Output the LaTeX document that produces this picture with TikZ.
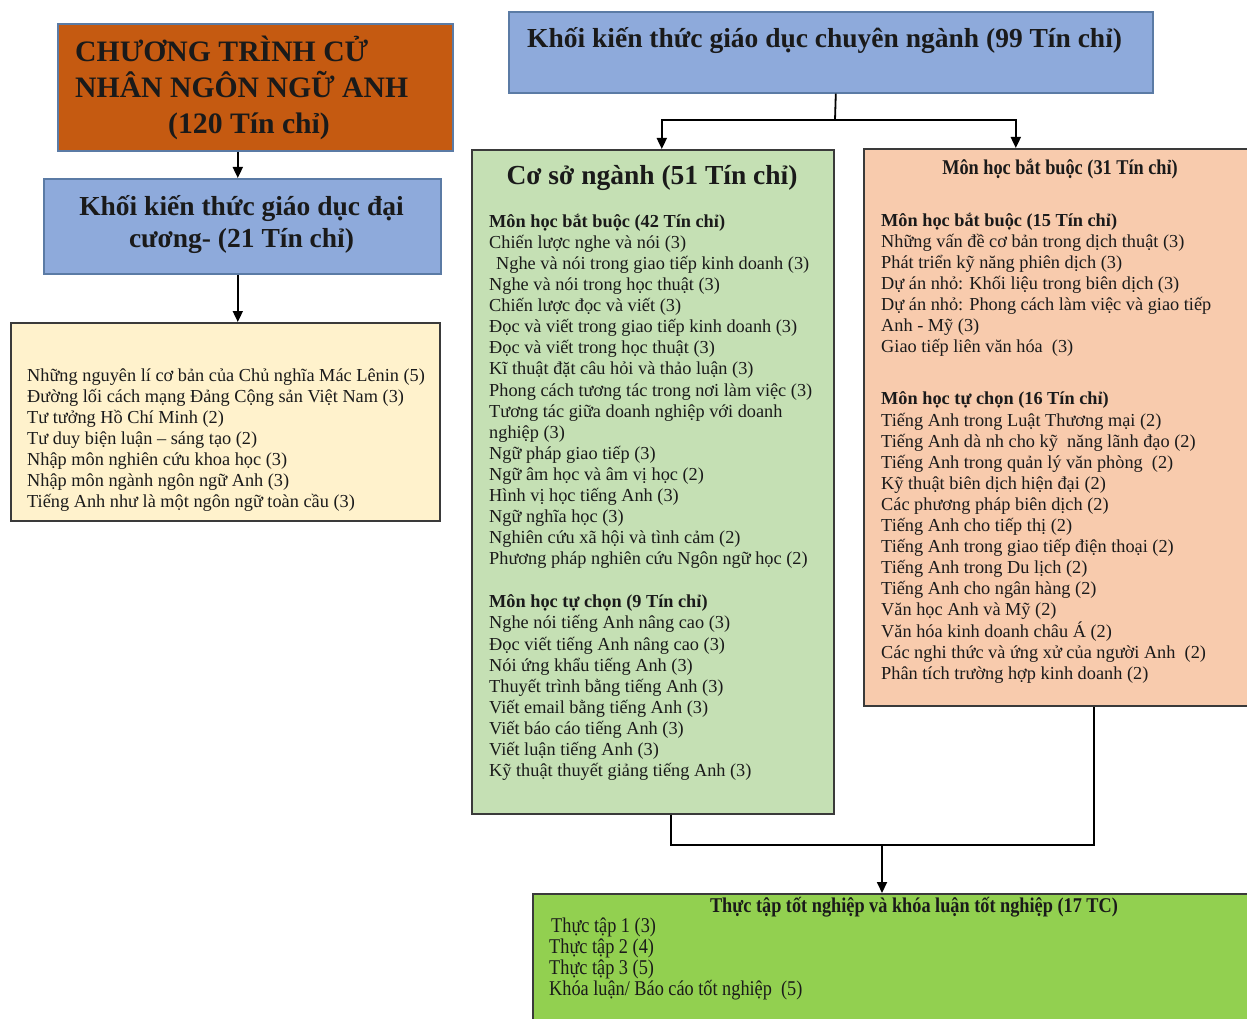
\documentclass[tikz,border=0pt]{standalone}
\usepackage{fontspec}
\setmainfont{Liberation Serif}
\newfontfamily\narrowfont[FakeStretch=0.87]{Liberation Serif}
\usepackage{xcolor}
\usetikzlibrary{positioning, arrows.meta, calc}

\definecolor{progorange}{HTML}{C55A11}
\definecolor{blockblue}{HTML}{8EAADB}
\definecolor{blueedge}{HTML}{5B7BA5}
\definecolor{genyellow}{HTML}{FFF2CC}
\definecolor{coregreen}{HTML}{C5E0B4}
\definecolor{specpink}{HTML}{F8CBAD}
\definecolor{thesisgreen}{HTML}{92D050}
\definecolor{boxedge}{HTML}{3A3A3A}
\definecolor{inktext}{HTML}{1A1A1A}

% first-line strut, so that the north of a text block is a fixed distance above its first baseline
\newcommand{\topline}[1]{\rule{0pt}{#1}}

\begin{document}
\begin{tikzpicture}[x=1pt, y=-1pt,
        block/.style={draw=boxedge, line width=1.6pt, rectangle, inner sep=0pt, anchor=north west},
        headblock/.style={block, draw=blueedge},
        title/.style={inner sep=0pt, align=center, text=inktext, font=\bfseries\fontsize{27.5}{32}\selectfont},
        listtext/.style={inner sep=0pt, anchor=north west, align=left, text=inktext, font=\fontsize{18.3}{21.1}\selectfont},
        arrow/.style={-{Triangle[width=10pt, length=11pt]}, line width=1.8pt},
        link/.style={line width=1.8pt}
    ]
    \useasboundingbox (0,0) rectangle (1247,1019);

    % --- Left column ---
    \node[headblock, fill=progorange, minimum width=395pt, minimum height=127pt] (program) at (57,23) {};
    \node[title, anchor=north west, align=left, font=\bfseries\fontsize{29.7}{36}\selectfont] (program-text) at (75,31)
        {\topline{30pt}CHƯƠNG TRÌNH CỬ\\NHÂN NGÔN NGỮ ANH\\\hspace*{93pt}(120 Tín chỉ)};

    \node[headblock, fill=blockblue, minimum width=397pt, minimum height=95pt] (general) at (43,178) {};
    \node[title, anchor=north] (general-text) at (241.5,188) {\topline{27pt}Khối kiến thức giáo dục đại\\cương- (21 Tín chỉ)};

    \node[block, fill=genyellow, minimum width=429pt, minimum height=198pt] (gen-list) at (10,322) {};
    \node[listtext] (gen-items) at (27,361) {\topline{20pt}Những nguyên lí cơ bản của Chủ nghĩa Mác Lênin (5)\\
        Đường lối cách mạng Đảng Cộng sản Việt Nam (3)\\
        Tư tưởng Hồ Chí Minh (2)\\
        Tư duy biện luận – sáng tạo (2)\\
        Nhập môn nghiên cứu khoa học (3)\\
        Nhập môn ngành ngôn ngữ Anh (3)\\
        Tiếng Anh như là một ngôn ngữ toàn cầu (3)};

    % --- Major block ---
    \node[headblock, fill=blockblue, minimum width=644pt, minimum height=81pt] (major) at (508,11) {};
    \node[title, anchor=base west] (major-text) at (527,48) {Khối kiến thức giáo dục chuyên ngành (99 Tín chỉ)};

    \node[block, fill=coregreen, minimum width=362pt, minimum height=664pt] (core) at (471,149) {};
    \node[title, anchor=base] (core-text) at (652,185) {Cơ sở ngành (51 Tín chỉ)};
    \node[listtext] (core-items) at (489,207) {\topline{20pt}\textbf{Môn học bắt buộc (42 Tín chỉ)}\\
        Chiến lược nghe và nói (3)\\
        \hspace*{7pt}Nghe và nói trong giao tiếp kinh doanh (3)\\
        Nghe và nói trong học thuật (3)\\
        Chiến lược đọc và viết (3)\\
        Đọc và viết trong giao tiếp kinh doanh (3)\\
        Đọc và viết trong học thuật (3)\\
        Kĩ thuật đặt câu hỏi và thảo luận (3)\\
        Phong cách tương tác trong nơi làm việc (3)\\
        Tương tác giữa doanh nghiệp với doanh\\
        nghiệp (3)\\
        Ngữ pháp giao tiếp (3)\\
        Ngữ âm học và âm vị học (2)\\
        Hình vị học tiếng Anh (3)\\
        Ngữ nghĩa học (3)\\
        Nghiên cứu xã hội và tình cảm (2)\\
        Phương pháp nghiên cứu Ngôn ngữ học (2)\\[21.9pt]
        \textbf{Môn học tự chọn (9 Tín chỉ)}\\
        Nghe nói tiếng Anh nâng cao (3)\\
        Đọc viết tiếng Anh nâng cao (3)\\
        Nói ứng khẩu tiếng Anh (3)\\
        Thuyết trình bằng tiếng Anh (3)\\
        Viết email bằng tiếng Anh (3)\\
        Viết báo cáo tiếng Anh (3)\\
        Viết luận tiếng Anh (3)\\
        Kỹ thuật thuyết giảng tiếng Anh (3)};

    \node[block, fill=specpink, minimum width=389pt, minimum height=557pt] (spec) at (863,148) {};
    \node[title, anchor=base, font=\narrowfont\bfseries\fontsize{21}{24}\selectfont] (spec-text) at (1060,175) {Môn học bắt buộc (31 Tín chỉ)};
    \node[listtext] (spec-items) at (881,206) {\topline{20pt}\textbf{Môn học bắt buộc (15 Tín chỉ)}\\
        Những vấn đề cơ bản trong dịch thuật (3)\\
        Phát triển kỹ năng phiên dịch (3)\\
        Dự án nhỏ: Khối liệu trong biên dịch (3)\\
        Dự án nhỏ: Phong cách làm việc và giao tiếp\\
        Anh - Mỹ (3)\\
        Giao tiếp liên văn hóa~~(3)\\[31pt]
        \textbf{Môn học tự chọn (16 Tín chỉ)}\\
        Tiếng Anh trong Luật Thương mại (2)\\
        Tiếng Anh dà nh cho kỹ~~năng lãnh đạo (2)\\
        Tiếng Anh trong quản lý văn phòng~~(2)\\
        Kỹ thuật biên dịch hiện đại (2)\\
        Các phương pháp biên dịch (2)\\
        Tiếng Anh cho tiếp thị (2)\\
        Tiếng Anh trong giao tiếp điện thoại (2)\\
        Tiếng Anh trong Du lịch (2)\\
        Tiếng Anh cho ngân hàng (2)\\
        Văn học Anh và Mỹ (2)\\
        Văn hóa kinh doanh châu Á (2)\\
        Các nghi thức và ứng xử của người Anh~~(2)\\
        Phân tích trường hợp kinh doanh (2)};

    % --- Internship / thesis ---
    \node[block, fill=thesisgreen, minimum width=764pt, minimum height=150pt] (thesis) at (532,893) {};
    \node[title, anchor=base, font=\narrowfont\bfseries\fontsize{21}{24}\selectfont] (thesis-text) at (914,912) {Thực tập tốt nghiệp và khóa luận tốt nghiệp (17 TC)};
    \node[listtext, font=\narrowfont\fontsize{21}{21.1}\selectfont] (thesis-items) at (549,912) {\topline{20pt}\hspace*{2pt}Thực tập 1 (3)\\
        Thực tập 2 (4)\\
        Thực tập 3 (5)\\
        Khóa luận/ Báo cáo tốt nghiệp~~(5)};

    % --- Arrows ---
    \draw[arrow] ([xshift=-17.5pt]program.south) -- ([xshift=-17.5pt]program.south |- general.north);
    \draw[arrow] ([xshift=-4.5pt]general.south) -- ([xshift=-4.5pt]general.south |- gen-list.north);

    \coordinate (split) at (835,120);
    \draw[link] ([xshift=5pt]major.south) -- (split);
    \draw[arrow] (split) -| ([xshift=9pt]core.north);
    \draw[arrow] (split) -| ([xshift=-42.5pt]spec.north);

    \coordinate (merge) at (882,845);
    \draw[link] ([xshift=18pt]core.south) |- (merge) -| ([xshift=35.5pt]spec.south);
    \draw[arrow] (merge) -- (merge |- thesis.north);

\end{tikzpicture}
\end{document}
